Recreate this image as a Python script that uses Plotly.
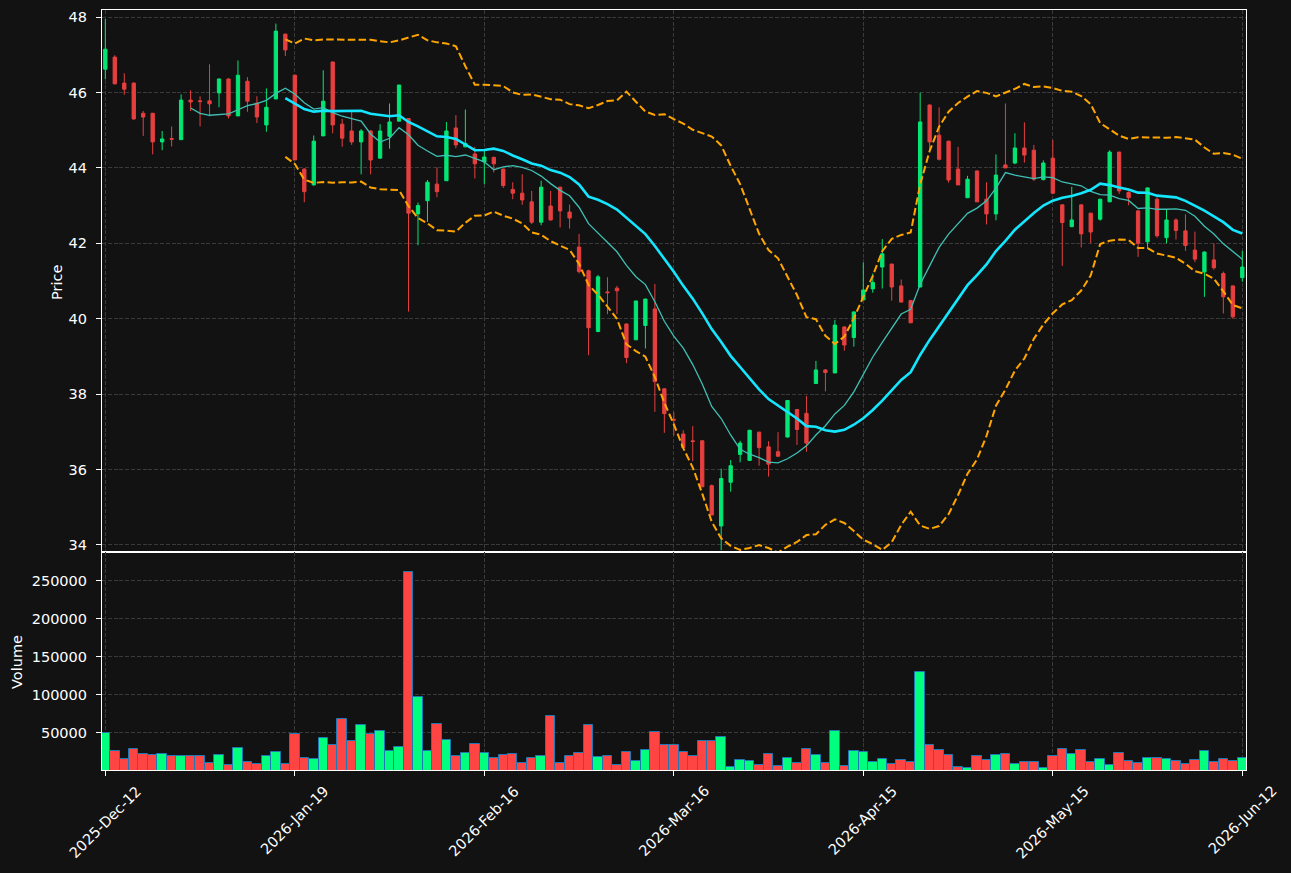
import pandas as pd
import plotly.graph_objects as go

# ---------------- data ----------------
opens = [46.62, 46.94, 46.25, 46.25, 45.45, 45.45, 44.69, 44.78, 44.75, 45.80,
         45.78, 45.78, 45.99, 46.36, 45.38, 46.30, 45.72, 45.14, 45.83, 47.55,
         46.46, 43.97, 43.55, 44.85, 46.81, 45.16, 44.98, 44.69, 44.98, 44.26,
         44.84, 45.24, 45.31, 42.78, 43.13, 43.57, 43.66, 45.06, 44.56, 44.37,
         44.16, 44.28, 43.97, 43.43, 43.33, 43.10, 42.56, 42.99, 43.49, 42.83,
         41.90, 41.27, 39.66, 40.71, 40.81, 39.86, 39.44, 39.82, 40.26, 38.14,
         37.33, 36.94, 36.76, 36.76, 35.57, 34.50, 35.66, 36.40, 36.24, 36.99,
         36.60, 36.47, 36.86, 37.59, 37.49, 38.28, 38.64, 38.56, 39.78, 39.50,
         40.50, 40.79, 41.37, 41.45, 40.87, 40.48, 40.84, 45.67, 44.87, 44.71,
         43.97, 43.21, 43.92, 43.17, 42.78, 44.08, 44.13, 44.53, 44.47, 43.69,
         44.26, 43.02, 42.44, 43.02, 42.80, 42.64, 43.10, 44.42, 43.35, 42.86,
         42.04, 43.17, 42.15, 42.62, 42.33, 41.82, 41.24, 41.56, 41.20, 40.87,
         41.09]
highs = [47.95, 46.99, 46.51, 46.27, 45.51, 45.46, 44.98, 45.10, 45.95, 46.06,
         45.90, 46.75, 46.37, 46.38, 46.85, 46.41, 45.90, 46.11, 47.83, 47.56,
         46.47, 43.99, 44.86, 46.59, 46.82, 45.30, 45.53, 45.03, 45.00, 45.16,
         45.71, 46.20, 45.31, 43.08, 43.68, 44.01, 45.22, 45.40, 45.55, 44.56,
         44.47, 44.30, 43.98, 43.62, 43.83, 43.39, 43.66, 43.39, 43.50, 43.03,
         42.25, 41.30, 41.16, 41.10, 40.87, 39.87, 40.47, 40.53, 40.92, 38.15,
         37.52, 37.04, 37.15, 36.77, 35.60, 36.02, 36.25, 36.76, 37.05, 37.00,
         36.75, 36.99, 37.84, 37.60, 37.95, 38.88, 38.66, 39.97, 39.80, 40.19,
         41.49, 41.20, 42.11, 41.45, 41.04, 40.50, 46.00, 45.68, 45.61, 44.72,
         44.56, 43.79, 43.93, 43.62, 44.36, 45.71, 44.92, 45.21, 44.61, 44.20,
         44.74, 43.03, 43.50, 43.03, 42.81, 43.18, 44.47, 44.43, 43.38, 42.87,
         43.48, 43.22, 42.91, 42.66, 42.77, 42.31, 41.78, 42.00, 41.25, 40.88,
         41.80]
lows = [46.35, 46.22, 45.94, 45.28, 44.85, 44.36, 44.47, 44.57, 44.75, 45.51,
        45.10, 45.37, 45.61, 45.31, 45.38, 45.49, 45.19, 44.96, 45.83, 46.97,
        44.21, 43.09, 43.53, 44.85, 44.92, 44.56, 44.61, 43.83, 43.83, 44.24,
        44.51, 45.24, 40.19, 41.95, 42.57, 43.22, 43.66, 44.52, 44.55, 43.72,
        43.57, 43.88, 43.47, 43.17, 43.02, 42.51, 42.48, 42.60, 42.42, 42.39,
        41.20, 39.03, 39.64, 40.12, 40.12, 38.82, 39.44, 39.21, 37.53, 36.97,
        36.90, 36.57, 36.22, 35.54, 34.79, 33.86, 35.41, 36.19, 36.24, 36.10,
        35.81, 36.35, 36.85, 36.65, 36.47, 38.28, 38.07, 38.56, 39.15, 39.26,
        40.49, 40.69, 40.80, 40.48, 40.44, 39.89, 40.84, 44.47, 44.20, 43.61,
        43.55, 43.20, 43.10, 42.50, 42.61, 44.00, 44.10, 44.14, 43.65, 43.67,
        43.30, 41.40, 42.44, 41.89, 42.00, 42.60, 43.10, 43.31, 43.01, 41.64,
        41.85, 42.15, 42.00, 42.10, 41.80, 41.50, 40.58, 41.30, 40.14, 40.00,
        40.98]
closes = [47.15, 46.23, 46.09, 45.30, 45.35, 44.69, 44.77, 44.76, 45.80, 45.75,
          45.76, 45.70, 46.36, 45.38, 46.46, 45.77, 45.35, 45.61, 47.63, 47.13,
          44.21, 43.37, 44.71, 45.77, 45.14, 44.79, 44.69, 44.98, 44.21, 44.98,
          45.22, 46.20, 42.80, 43.00, 43.62, 43.37, 44.98, 44.61, 44.65, 44.11,
          44.29, 44.11, 43.53, 43.33, 43.15, 42.56, 43.49, 42.62, 42.86, 42.67,
          41.25, 39.76, 41.11, 40.69, 40.74, 38.97, 40.47, 40.52, 38.33, 37.48,
          37.31, 36.58, 36.74, 35.54, 34.79, 35.76, 36.10, 36.70, 37.04, 36.58,
          36.14, 36.35, 37.83, 37.06, 36.70, 38.64, 38.57, 39.83, 39.30, 40.18,
          40.76, 40.96, 41.72, 40.84, 40.44, 39.89, 45.22, 44.69, 44.23, 43.68,
          43.55, 43.70, 43.10, 42.78, 43.81, 44.00, 44.53, 44.34, 43.70, 44.13,
          43.33, 42.55, 42.62, 42.25, 42.30, 43.17, 44.42, 43.39, 43.21, 42.00,
          43.47, 42.20, 42.62, 42.34, 41.94, 41.58, 41.77, 41.35, 40.58, 40.05,
          41.37]
volumes = [49500, 26200, 15600, 28800, 22200, 20900, 22200, 19500, 19500, 19500,
           19500, 10300, 20900, 7600, 30100, 11600, 8900, 19500, 24800, 8900,
           49100, 16900, 15600, 43400, 34100, 68500, 39400, 60600, 48700, 52600,
           26200, 31500, 261900, 97700, 26200, 61900, 40700, 19500, 23500, 35400,
           23500, 16900, 20900, 22200, 10300, 16900, 19500, 72500, 10300, 19500,
           23500, 60600, 18200, 19500, 7600, 24800, 12900, 27500, 51300, 33800,
           33800, 24800, 19500, 39400, 39400, 44700, 5000, 14200, 12900, 7600,
           22200, 6300, 16900, 10300, 28800, 20900, 10300, 52600, 6300, 26200,
           24800, 11600, 15600, 8900, 14200, 11600, 129500, 33800, 27500, 20900,
           5000, 3500, 19500, 14200, 20900, 22200, 8900, 11600, 11600, 3800,
           19500, 28800, 22200, 27500, 11600, 15600, 7600, 23500, 12900, 10300,
           16900, 16900, 15600, 12900, 8900, 14200, 26200, 11600, 15600, 12900,
           16900]

tick_positions = [0, 20, 40, 60, 80, 100, 120]
tick_labels = ["2025-Dec-12", "2026-Jan-19", "2026-Feb-16", "2026-Mar-16",
               "2026-Apr-15", "2026-May-15", "2026-Jun-12"]
price_ticks = [34, 36, 38, 40, 42, 44, 46, 48]
volume_ticks = [50000, 100000, 150000, 200000, 250000]

# ---------------- derived indicators ----------------
idx = list(range(len(closes)))
cs = pd.Series(closes)
ma10 = cs.rolling(10).mean()
ma20 = cs.rolling(20).mean()
sd20 = cs.rolling(20).std(ddof=0)
upper = ma20 + 2 * sd20
lower = ma20 - 2 * sd20

# ---------------- styling ----------------
BG = "#121212"
UP_C = "#02e774"
DN_C = "#e73f3f"
UP_V = "#00ff7f"
DN_V = "#ff4444"
GRID = "#3a3a3a"
FONT = dict(family="DejaVu Sans", size=14.5, color="#ffffff")
XR = [-0.35, 120.39]

vol_colors = [UP_V if c >= o else DN_V for o, c in zip(opens, closes)]

fig = go.Figure()
fig.add_trace(go.Candlestick(
    x=idx, open=opens, high=highs, low=lows, close=closes,
    increasing=dict(line=dict(color=UP_C, width=1), fillcolor=UP_C),
    decreasing=dict(line=dict(color=DN_C, width=1), fillcolor=DN_C),
    whiskerwidth=0, showlegend=False, xaxis="x", yaxis="y"))
fig.add_trace(go.Scatter(x=idx, y=ma10, mode="lines",
                         line=dict(color="#3fc0b4", width=1.3),
                         showlegend=False, xaxis="x", yaxis="y"))
fig.add_trace(go.Scatter(x=idx, y=ma20, mode="lines",
                         line=dict(color="#14e6ff", width=2.6),
                         showlegend=False, xaxis="x", yaxis="y"))
for band in (upper, lower):
    fig.add_trace(go.Scatter(x=idx, y=band, mode="lines",
                             line=dict(color="#ffa500", width=2.0, dash="7.5px,3.3px"),
                             showlegend=False, xaxis="x", yaxis="y"))
fig.add_trace(go.Bar(x=idx, y=volumes, width=1.0,
                     marker=dict(color=vol_colors, line=dict(color="#1f77b4", width=1)),
                     showlegend=False, xaxis="x2", yaxis="y2"))

split = 218 / 760

axis_common = dict(showline=True, linecolor="#ffffff", linewidth=1.1, mirror=True,
                   showgrid=True, gridcolor=GRID, gridwidth=1.1, griddash="4px,1.8px",
                   zeroline=False, tickfont=FONT)

annotations = [
    dict(text="Price", xref="paper", yref="paper", x=(57 - 102) / 1144,
         y=(770 - 283) / 760, showarrow=False, textangle=-90,
         xanchor="center", yanchor="middle", font=FONT),
    dict(text="Volume", xref="paper", yref="paper", x=(17 - 102) / 1144,
         y=(770 - 662) / 760, showarrow=False, textangle=-90,
         xanchor="center", yanchor="middle", font=FONT),
]
for pos, lab in zip(tick_positions, tick_labels):
    annotations.append(dict(text=lab, xref="x2", yref="paper", x=pos,
                            y=(770 - 780) / 760, showarrow=False, textangle=-45,
                            xanchor="center", yanchor="top", font=FONT))

fig.update_layout(
    width=1291, height=873,
    margin=dict(l=102, r=45, t=10, b=103, pad=0),
    paper_bgcolor=BG, plot_bgcolor=BG,
    font=FONT, showlegend=False, boxgap=0.5, bargap=0,
    xaxis=dict(domain=[0, 1], anchor="y", range=XR, tickvals=tick_positions,
               showticklabels=False, ticks="", rangeslider=dict(visible=False),
               **axis_common),
    yaxis=dict(domain=[split, 1], anchor="x", range=[33.81, 48.19],
               tickvals=price_ticks, ticks="outside", ticklen=5, tickcolor="#ffffff",
               ticklabelstandoff=6, **axis_common),
    xaxis2=dict(domain=[0, 1], anchor="y2", range=XR, tickvals=tick_positions,
                showticklabels=False, ticks="outside", ticklen=5,
                tickcolor="#ffffff", matches="x", **axis_common),
    yaxis2=dict(domain=[0, split], anchor="x2", range=[1050, 288000],
                tickvals=volume_ticks, tickformat="d", ticks="outside", ticklen=5,
                tickcolor="#ffffff", ticklabelstandoff=6, **axis_common),
    annotations=annotations,
)

fig.write_html("out.html")
